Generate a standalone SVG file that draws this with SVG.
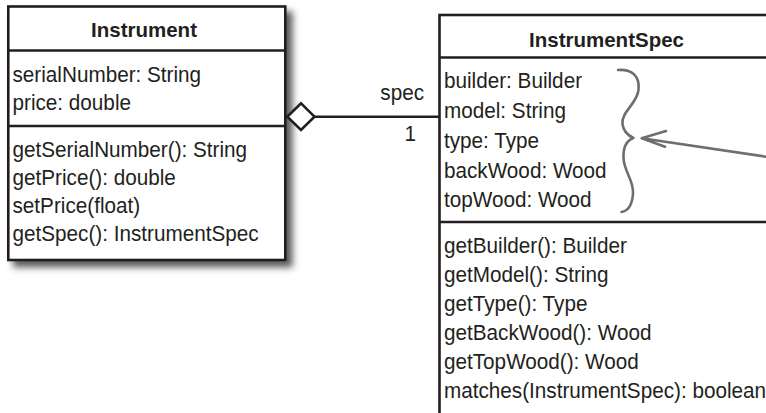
<svg xmlns="http://www.w3.org/2000/svg" width="766" height="413" viewBox="0 0 766 413">
<defs>
<filter id="shadow" x="-10%" y="-10%" width="130%" height="130%">
<feDropShadow dx="6" dy="6" stdDeviation="3.5" flood-color="#000" flood-opacity="0.65"/>
</filter>
<style>
.box{fill:#fff;stroke:#231f20;stroke-width:2.6}
.sep{stroke:#231f20;stroke-width:2.6;fill:none}
.t{font-family:"Liberation Sans",Arial,sans-serif;font-size:21.5px;fill:#231f20}
.title{font-family:"Liberation Sans",Arial,sans-serif;font-size:20.5px;font-weight:bold;fill:#231f20;text-anchor:middle}
.note{stroke:#6d6e70;stroke-width:2.6;fill:none;stroke-linecap:round;stroke-linejoin:round}
</style>
</defs>
<rect width="766" height="413" fill="#fff"/>
<g id="Instrument">
<rect class="box" x="8.3" y="6.5" width="277" height="253.5" filter="url(#shadow)"/>
<line class="sep" x1="8.3" y1="50.5" x2="285.3" y2="50.5"/>
<line class="sep" x1="8.3" y1="126" x2="285.3" y2="126"/>
<text class="title" x="144" y="37">Instrument</text>
<g transform="translate(12.5 0) scale(0.963 1)">
<text class="t" x="0" y="82">serialNumber: String</text>
<text class="t" x="0" y="110.5">price: double</text>
<text class="t" x="0" y="157">getSerialNumber(): String</text>
<text class="t" x="0" y="185">getPrice(): double</text>
<text class="t" x="0" y="213">setPrice(float)</text>
<text class="t" x="0" y="241">getSpec(): InstrumentSpec</text>
</g>
</g>
<g id="InstrumentSpec">
<rect class="box" x="439.5" y="15" width="400" height="420"/>
<line class="sep" x1="439.5" y1="57.5" x2="839.5" y2="57.5"/>
<line class="sep" x1="439.5" y1="222" x2="839.5" y2="222"/>
<text class="title" x="606.5" y="46.5">InstrumentSpec</text>
<g transform="translate(444 0) scale(0.963 1)">
<text class="t" x="0" y="88.5">builder: Builder</text>
<text class="t" x="0" y="118">model: String</text>
<text class="t" x="0" y="148">type: Type</text>
<text class="t" x="0" y="178">backWood: Wood</text>
<text class="t" x="0" y="207.5">topWood: Wood</text>
<text class="t" x="0" y="253">getBuilder(): Builder</text>
<text class="t" x="0" y="282">getModel(): String</text>
<text class="t" x="0" y="311">getType(): Type</text>
<text class="t" x="0" y="340">getBackWood(): Wood</text>
<text class="t" x="0" y="369">getTopWood(): Wood</text>
<text class="t" x="0" y="398">matches(InstrumentSpec): boolean</text>
</g>
</g>
<g id="connectors">
<polygon points="287.3,116.7 301,103.3 314.5,116.7 301,130" fill="#fff" stroke="#231f20" stroke-width="2.6" stroke-linejoin="miter"/>
<line x1="314.5" y1="116.7" x2="439.5" y2="116.7" stroke="#231f20" stroke-width="2.6"/>
<g transform="translate(424 0) scale(0.963 1)">
<text class="t" x="0" y="100" text-anchor="end">spec</text>
</g>
<g transform="translate(416 0) scale(0.963 1)">
<text class="t" x="0" y="141.5" text-anchor="end">1</text>
</g>
</g>
<g id="annotation">
<path class="note" d="M618,70 C632,69 640,76 638.5,90 C637,104 621,112 622.5,124 C623.5,132 629,136 633.5,138 C628,140 623,146 623.5,158 C624,172 634,180 633,194 C632,206 628,211 621.5,212"/>
<path class="note" d="M766,156.7 L641.7,138.3 M666,131 L641.7,138.3 L665,146.7"/>
</g>
</svg>
